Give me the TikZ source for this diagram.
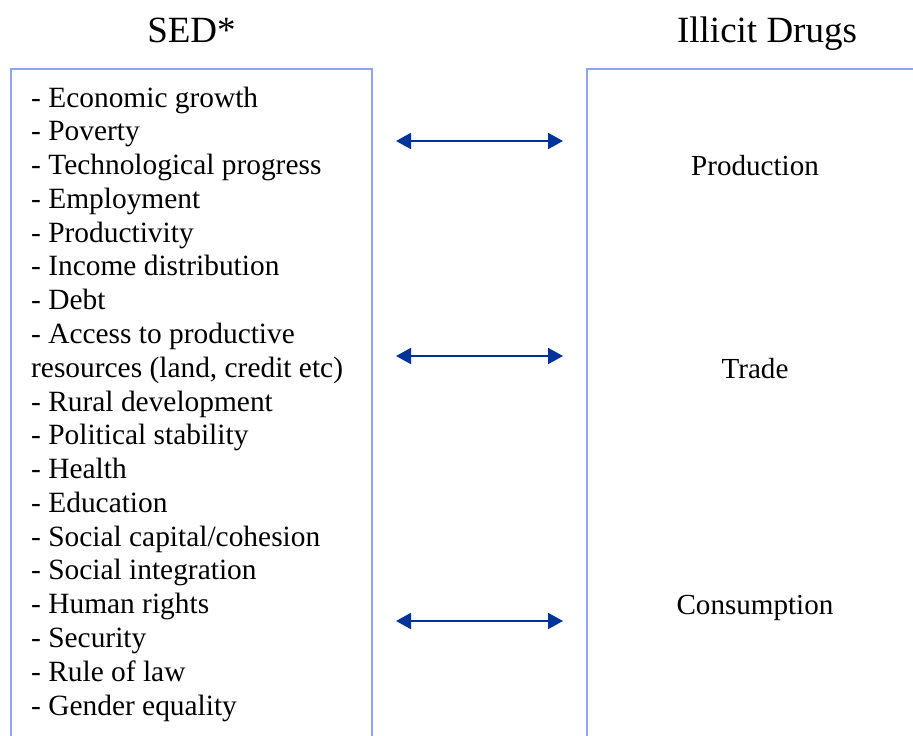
\documentclass[tikz,border=0pt]{standalone}
\usepackage{fontspec}
\setmainfont{Liberation Serif}
\usetikzlibrary{arrows.meta}
\definecolor{BoxClr}{RGB}{140,163,255}
\definecolor{ArrowClr}{RGB}{0,51,153}

\begin{document}
\begin{tikzpicture}[x=1pt,y=-1pt,
  head/.style={anchor=base,inner sep=0pt,font=\fontsize{37}{44}\selectfont},
  item/.style={anchor=base west,inner sep=0pt,font=\fontsize{29.4}{34}\selectfont},
  stage/.style={anchor=base,inner sep=0pt,font=\fontsize{29.1}{34}\selectfont},
  frame/.style={line width=2pt,color=BoxClr},
  link/.style={{Triangle[length=15pt,width=16pt]}-{Triangle[length=15pt,width=16pt]},line width=2pt,color=ArrowClr}]
\useasboundingbox (0,0) rectangle (913,736);
\clip (0,0) rectangle (913,736);

% headings
\node[head] (sed) at (191.5,42) {SED*};
\node[head] (drugs) at (767,42) {Illicit Drugs};

% open boxes
\draw[frame] (11,740) -- (11,69) -- (372,69) -- (372,740);
\draw[frame] (587,740) -- (587,69) -- (920,69);

% list of factors
\foreach \t [count=\i] in {- Economic growth,- Poverty,- Technological progress,
  - Employment,- Productivity,- Income distribution,- Debt,
  - Access to productive,{resources (land, credit etc)},- Rural development,
  - Political stability,- Health,- Education,- Social capital/cohesion,
  - Social integration,- Human rights,- Security,- Rule of law,- Gender equality}
  \node[item] (s\i) at (31,{107+33.78*(\i-1)}) {\t};

% stages
\node[stage] (prod) at (755,175) {Production};
\node[stage] (trade) at (755,378) {Trade};
\node[stage] (cons) at (755,614) {Consumption};

% links
\coordinate (pl) at (396,141); \coordinate (pr) at (563,141);
\coordinate (tl) at (396,356); \coordinate (tr) at (563,356);
\coordinate (cl) at (396,621); \coordinate (cr) at (563,621);
\draw[link] (pl) -- (pr);
\draw[link] (tl) -- (tr);
\draw[link] (cl) -- (cr);

\end{tikzpicture}
\end{document}
